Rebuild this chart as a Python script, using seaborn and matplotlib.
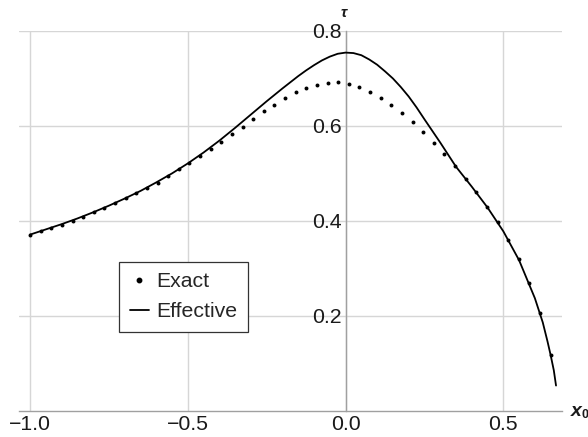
import matplotlib
matplotlib.use('Agg')
import matplotlib.pyplot as plt
import seaborn as sns
from matplotlib.ticker import MultipleLocator, FuncFormatter
from matplotlib.lines import Line2D

sns.set_style('white')
plt.rcParams['font.family'] = ['Liberation Sans', 'DejaVu Sans']
plt.rcParams['axes.unicode_minus'] = True

# ---- data ----
exact_x = [-1.0, -0.96633, -0.93265, -0.89898, -0.86531, -0.83163, -0.79796, -0.76429,
           -0.73061, -0.69694, -0.66327, -0.62959, -0.59592, -0.56224, -0.52857, -0.4949,
           -0.46122, -0.42755, -0.39388, -0.3602, -0.32653, -0.29286, -0.25918, -0.22551,
           -0.19184, -0.15816, -0.12449, -0.09082, -0.05714, -0.02347, 0.0102, 0.04388,
           0.07755, 0.11122, 0.1449, 0.17857, 0.21224, 0.24592, 0.27959, 0.31327,
           0.34694, 0.38061, 0.41429, 0.44796, 0.48163, 0.51531, 0.54898, 0.58265,
           0.61633, 0.65]
exact_tau = [0.3705, 0.3777, 0.3846, 0.3916, 0.4000, 0.4084, 0.4177, 0.4267,
             0.4366, 0.4472, 0.4577, 0.4688, 0.4808, 0.4941, 0.5082, 0.5221,
             0.5365, 0.551, 0.567, 0.582, 0.5987, 0.6147, 0.631, 0.645,
             0.6597, 0.6716, 0.680, 0.687, 0.6910, 0.6925, 0.6884, 0.682,
             0.672, 0.659, 0.644, 0.627, 0.608, 0.587, 0.564, 0.541,
             0.5158, 0.489, 0.4604, 0.430, 0.398, 0.359, 0.3187, 0.2695,
             0.205, 0.117]

eff_x = [-1.0, -0.95, -0.9, -0.85, -0.8, -0.75, -0.7, -0.65, -0.6, -0.55, -0.5,
         -0.45, -0.4, -0.35, -0.3, -0.25, -0.2, -0.175, -0.15, -0.125, -0.1, -0.075,
         -0.05, -0.025, 0.0, 0.025, 0.05, 0.075, 0.1, 0.125, 0.15, 0.175, 0.2,
         0.225, 0.25, 0.3, 0.35, 0.4, 0.45, 0.5, 0.55, 0.6,
         0.625, 0.64, 0.65, 0.66, 0.667]
eff_tau = [0.371, 0.382, 0.393, 0.405, 0.418, 0.432, 0.447, 0.463, 0.481, 0.500, 0.521,
           0.544, 0.569, 0.596, 0.624, 0.652, 0.679, 0.692, 0.705, 0.717, 0.728, 0.738,
           0.746, 0.752, 0.7545, 0.7535, 0.749, 0.740, 0.729, 0.715, 0.700, 0.682, 0.662,
           0.639, 0.614, 0.565, 0.514, 0.472, 0.428, 0.378, 0.317, 0.237,
           0.186, 0.146, 0.117, 0.085, 0.053]

x_ticks = [-1.0, -0.5, 0.0, 0.5]
y_ticks = [0.2, 0.4, 0.6, 0.8]
series_labels = ['Exact', 'Effective']

# ---- figure ----
W, H = 588, 437
fig = plt.figure(figsize=(W / 100, H / 100), dpi=100)
ax = fig.add_axes([19 / W, 1 - 410.7 / H, 542.7 / W, 379.7 / H])
ax.set_xlim(-1.035, 0.685)
ax.set_ylim(0, 0.8)

grid_c = '#d6d6d6'
axis_c = '#a0a0a0'

sns.lineplot(x=eff_x, y=eff_tau, color='black', linewidth=1.3, ax=ax,
             sort=False, zorder=3, legend=False)
sns.scatterplot(x=exact_x, y=exact_tau, s=8, color='black', linewidth=0, ax=ax,
                zorder=4, legend=False)

fmt = FuncFormatter(lambda v, p: ('%.1f' % v).replace('-', '\u2212'))
ax.set_xticks(x_ticks)
ax.set_yticks(y_ticks)
ax.xaxis.set_major_formatter(fmt)
ax.yaxis.set_major_formatter(fmt)
ax.xaxis.set_minor_locator(MultipleLocator(0.1))
ax.yaxis.set_minor_locator(MultipleLocator(0.05))
ax.grid(True, which='major', color=grid_c, linewidth=1.0, zorder=0)
ax.set_axisbelow(True)

for s in ['top', 'right']:
    ax.spines[s].set_visible(False)
ax.spines['left'].set_position(('data', 0))
ax.spines['bottom'].set_position(('data', 0))
for s in ['left', 'bottom']:
    ax.spines[s].set_color(axis_c)
    ax.spines[s].set_linewidth(1.0)

ax.tick_params(which='major', direction='in', length=4, width=0.8, color=axis_c,
               labelsize=15.3, labelcolor='#1a1a1a')
ax.tick_params(which='minor', direction='in', length=2.2, width=0.6, color=axis_c)
ax.tick_params(axis='x', which='major', pad=3)
ax.tick_params(axis='y', which='major', pad=2.5)

handles = [Line2D([], [], marker='o', linestyle='', color='black', markersize=3.2),
           Line2D([], [], color='black', linewidth=1.3)]
leg = ax.legend(handles, series_labels, loc='upper left',
                bbox_to_anchor=((119.3 - 19) / 542.7, (410.7 - 261.7) / 379.7),
                borderaxespad=0, frameon=True, fancybox=False, framealpha=1,
                edgecolor='#333333', fontsize=15.3, handlelength=0.9,
                handletextpad=0.35, borderpad=0.5, labelspacing=0.5)
leg.get_frame().set_linewidth(0.9)

fig.text(571 / W, 1 - 411 / H, 'x', fontsize=14, fontweight='bold', style='italic',
         ha='left', va='center', color='#1a1a1a')
fig.text(582 / W, 1 - 415 / H, '0', fontsize=9, fontweight='bold',
         ha='left', va='center', color='#1a1a1a')
fig.text(343.5 / W, 1 - 13 / H, 'τ', fontsize=11, fontweight='bold', style='italic',
         ha='center', va='center', color='#1a1a1a')

fig.savefig('out.png', dpi=100)
